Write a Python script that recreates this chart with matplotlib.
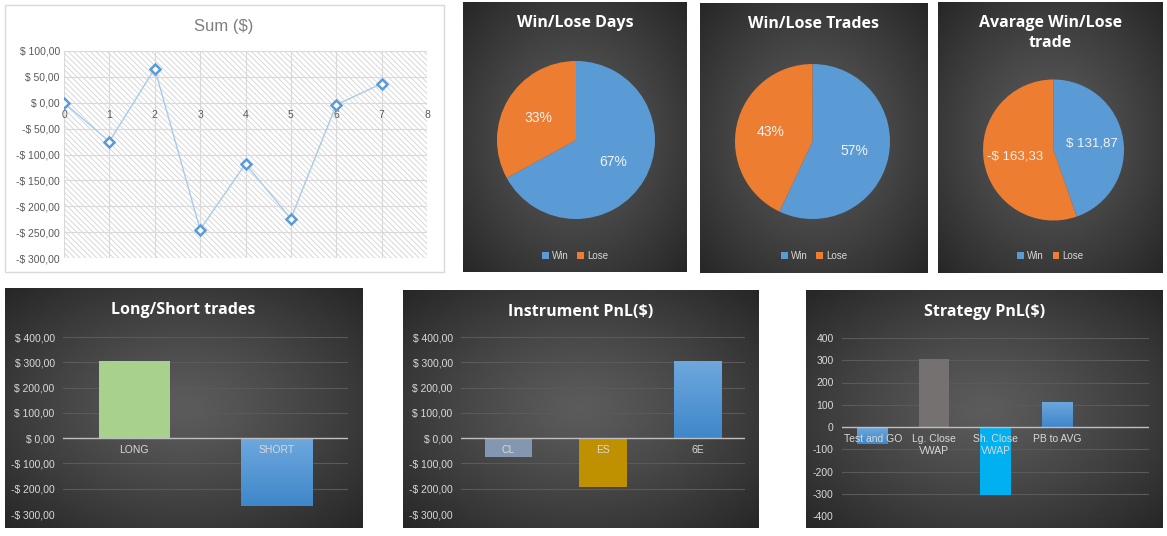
import numpy as np
import matplotlib
matplotlib.use('Agg')
import matplotlib.pyplot as plt
from matplotlib.patches import Rectangle
from matplotlib.colors import LinearSegmentedColormap

# data
sum_x = [0, 1, 2, 3, 4, 5, 6, 7]
sum_y = [0, -75, 66, -245, -118, -224, -4, 37]

days_labels = ['Win', 'Lose']
days_pct = [67, 33]
trades_pct = [57, 43]
avg_trade = [131.87, -163.33]

side_names = ['LONG', 'SHORT']
side_pnl = [306, -269]

instr_names = ['CL', 'ES', '6E']
instr_pnl = [-76, -194, 305]

strat_names = ['Test and GO', 'Lg. Close\nVWAP', 'Sh. Close\nVWAP', 'PB to AVG']
strat_pnl = [-76, 306, -306, 113]

W, H = 1167, 536
BLUE = '#5B9BD5'
ORANGE = '#ED7D31'
LIGHT = '#D9D9D9'
blue_grad = LinearSegmentedColormap.from_list('bg', ['#3F87CA', '#6EA8DE'])

plt.rcParams['font.family'] = ['Liberation Sans', 'DejaVu Sans']
plt.rcParams['hatch.linewidth'] = 0.6
plt.rcParams['hatch.color'] = '#D2D2D2'


def px(x0, y0, x1, y1):
    return [x0 / W, 1 - y1 / H, (x1 - x0) / W, (y1 - y0) / H]


def money(v):
    s = f"{abs(v):,.2f}".replace(',', ' ').replace('.', ',')
    return ('-' if v < 0 else '') + '$ ' + s


def dark_panel(box):
    ax = fig.add_axes(px(*box), zorder=0)
    gx, gy = np.meshgrid(np.linspace(-1, 1, 200), np.linspace(-1, 1, 200))
    r = np.clip(np.sqrt(gx ** 2 + gy ** 2) / np.sqrt(2), 0, 1)
    c0, c1 = 0.36, 0.15
    val = c0 + (c1 - c0) * r ** 1.2
    ax.imshow(np.dstack([val, val, val]), extent=[0, 1, 0, 1], aspect='auto')
    ax.axis('off')
    return ax


def title(x, y, s, **kw):
    fig.text(x / W, 1 - y / H, s, ha='center', va='center', **kw)


fig = plt.figure(figsize=(W / 100, H / 100), dpi=100)

# ---- Sum ($)
fig.add_artist(Rectangle((5 / W, 1 - 272 / H), 439 / W, 267 / H, transform=fig.transFigure,
                         facecolor='white', edgecolor=LIGHT, lw=1))
title(224, 26, 'Sum ($)', color='#7F7F7F', fontsize=12)
ax = fig.add_axes(px(64, 51, 427, 258), zorder=2)
ax.set_facecolor('none')
ax.add_patch(Rectangle((0, 0), 1, 1, transform=ax.transAxes, facecolor='white',
                       edgecolor='#D2D2D2', hatch='\\\\\\\\\\\\', lw=0, zorder=0.1))
ax.plot(sum_x, sum_y, color='#A9CBEA', lw=1, marker='D', ms=5, mfc='white',
        mec=BLUE, mew=1.8, zorder=3)
ax.set_xlim(0, 8)
ax.set_ylim(-300, 100)
ax.set_xticks(range(9))
ax.set_yticks(range(-300, 101, 50))
ax.set_yticklabels([money(v) for v in range(-300, 101, 50)])
ax.grid(True, color=LIGHT, lw=0.8)
ax.set_axisbelow(True)
for s in ax.spines.values():
    s.set_visible(False)
ax.spines['bottom'].set_position(('data', 0))
ax.tick_params(length=0, colors='#595959', labelsize=7.5)
ax.tick_params(axis='x', pad=5)
ax.tick_params(axis='y', pad=3)

# ---- pies
pies = [
    ((463, 2, 687, 272), 'Win/Lose Days', (497, 61, 655, 219), days_pct, None, 23),
    ((700, 3, 928, 273), 'Win/Lose Trades', (735, 63, 890, 220), trades_pct, None, 24),
    ((938, 2, 1163, 273), 'Avarage Win/Lose\ntrade', (983, 79, 1124, 221),
     [abs(v) for v in avg_trade], avg_trade, 33),
]
for box, name, pbox, vals, raw, ty in pies:
    dark_panel(box)
    cx = (box[0] + box[2]) / 2
    title(cx, ty, name, color='white', fontsize=11.5, fontweight='bold',
          family='Open Sans', linespacing=1.3)
    pa = fig.add_axes(px(*pbox), zorder=2)
    wedges, _, autos = pa.pie(vals, colors=[BLUE, ORANGE], startangle=90,
                              counterclock=False, autopct='%1.0f%%', pctdistance=0.55,
                              wedgeprops=dict(lw=0), textprops=dict(color='#F2F2F2', fontsize=10))
    if raw is not None:
        for t, v in zip(autos, raw):
            t.set_text(money(v))
            t.set_fontsize(9.5)
    pa.set_xlim(-1, 1)
    pa.set_ylim(-1, 1)
    pa.legend(wedges, days_labels, loc='center', ncol=2, frameon=False,
              bbox_to_anchor=(cx / W, 1 - 256 / H), bbox_transform=fig.transFigure,
              fontsize=7, labelcolor=LIGHT, handlelength=0.7, handleheight=0.7,
              handletextpad=0.3, columnspacing=0.9)


# ---- bar panels
def bar_panel(box, name, pbox, names, vals, colors, ylim, step, fmt, nslots):
    dark_panel(box)
    title((box[0] + box[2]) / 2, box[1] + 22, name, color='white', fontsize=11.5,
          fontweight='bold', family='Open Sans')
    ax = fig.add_axes(px(*pbox), zorder=2)
    ax.set_facecolor('none')
    ticks = list(range(ylim[0], ylim[1] + 1, step))
    for t in ticks:
        ax.axhline(t, color='#5A5A5A', lw=0.8, zorder=0.3)
    ax.axhline(0, color='#BFBFBF', lw=1, zorder=1.5)
    bars = ax.bar(range(len(vals)), vals, width=0.5, color=colors, zorder=1)
    for b, c in zip(bars, colors):
        if c == BLUE:
            x0, y0 = b.get_x(), b.get_y()
            x1, y1 = x0 + b.get_width(), y0 + b.get_height()
            im = ax.imshow(np.linspace(0, 1, 100).reshape(-1, 1), cmap=blue_grad,
                           extent=[x0, x1, min(y0, y1), max(y0, y1)], origin='lower',
                           aspect='auto', zorder=1.1)
            im.set_clip_path(b)
    ax.set_xlim(-0.5, nslots - 0.5)
    ax.set_ylim(*ylim)
    ax.set_yticks(ticks)
    ax.set_yticklabels([fmt(v) for v in ticks])
    ax.set_xticks(range(len(names)))
    ax.set_xticklabels(names, linespacing=1.4)
    for s in ax.spines.values():
        s.set_visible(False)
    ax.spines['bottom'].set_position(('data', 0))
    ax.tick_params(length=0, colors=LIGHT, labelsize=7.5)
    ax.tick_params(axis='x', pad=5)
    ax.tick_params(axis='y', pad=6)
    return ax


bar_panel((5, 288, 362, 528), 'Long/Short trades', (63, 337, 348, 514),
          side_names, side_pnl, ['#A9D18E', BLUE], (-300, 400), 100, money, 2)
bar_panel((403, 290, 759, 528), 'Instrument PnL($)', (461, 337, 745, 514),
          instr_names, instr_pnl, ['#8497B0', '#BF9000', BLUE], (-300, 400), 100, money, 3)
bar_panel((806, 290, 1163, 528), 'Strategy PnL($)', (842, 338, 1149, 516),
          strat_names, strat_pnl, [BLUE, '#767171', '#00B0F0', BLUE], (-400, 400), 100,
          lambda v: str(v), 5)

plt.savefig('out.png', dpi=100, facecolor='white')
